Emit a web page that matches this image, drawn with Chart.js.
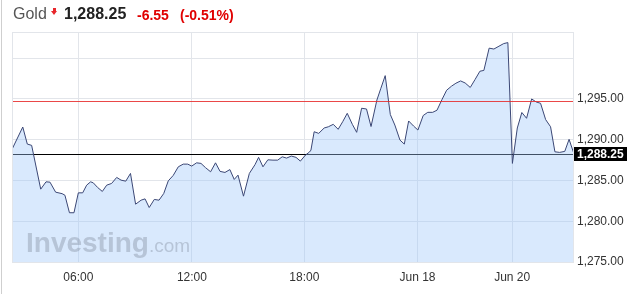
<!DOCTYPE html>
<html>
<head>
<meta charset="utf-8">
<script src="https://cdn.jsdelivr.net/npm/chart.js@4/dist/chart.umd.min.js"></script>
<style>
    body { margin: 0; background: #fff; font-family: "Liberation Sans", Arial, sans-serif; }
    #wrap { position: relative; width: 637px; height: 294px; overflow: hidden; }
    #wrap canvas { position: absolute; left: 0; top: 0; }
    .edge { position: absolute; left: 1px; top: 0; width: 1px; height: 294px; background: #cfcfcf; }
    .hd { position: absolute; line-height: 1; white-space: nowrap; }
    .arrow { position: absolute; left: 51px; top: 8px; width: 7px; height: 7px; }
    .arrow .stem { position: absolute; left: 2px; top: 0; width: 3px; height: 3px; background: #e8262b; }
    .arrow .head { position: absolute; left: 0; top: 3px; width: 0; height: 0;
        border-left: 3.5px solid transparent; border-right: 3.5px solid transparent; border-top: 4px solid #e8262b; }
</style>
</head>
<body>
<div id="wrap">
    <canvas id="chart" width="637" height="294"></canvas>
    <div class="edge"></div>
    <div class="hd" style="left:13px; top:6px; font-size:16px; color:#555;">Gold</div>
    <div class="arrow"><div class="stem"></div><div class="head"></div></div>
    <div class="hd" id="last" style="left:64px; top:6px; font-size:16px; font-weight:bold; color:#222;"></div>
    <div class="hd" id="chg" style="left:137px; top:8px; font-size:14px; font-weight:bold; color:#e00000;"></div>
    <div class="hd" id="pct" style="left:180px; top:8px; font-size:14px; font-weight:bold; color:#e00000;"></div>
</div>
<script>
// Quote
const lastPrice = 1288.25;
const change = -6.55;
const changePct = -0.51;
const prevClose = lastPrice - change;

// Time axis (hours from left edge of the chart) and gold price
const hours = [
    0, 0.57, 0.81, 1.04, 1.52, 1.80, 2.01, 2.31, 2.65, 2.80,
    3.04, 3.28, 3.51, 3.74, 3.95, 4.16, 4.30, 4.53, 4.78, 5.01,
    5.27, 5.54, 5.77, 6.02, 6.27, 6.54, 6.83, 7.04, 7.26, 7.53,
    7.78, 8.03, 8.27, 8.53, 8.80, 9.06, 9.30, 9.51, 9.77, 10.00,
    10.24, 10.51, 10.77, 11.01, 11.27, 11.53, 11.76, 11.96, 12.25, 12.56,
    12.86, 13.05, 13.28, 13.54, 13.81, 14.06, 14.30, 14.53, 14.78, 15.03,
    15.26, 15.53, 15.74, 15.82, 15.99, 16.23, 16.52, 16.74, 17.00, 17.26,
    17.50, 17.74, 18.01, 18.24, 18.50, 18.76, 19.00, 19.31, 19.52, 19.75,
    20.02, 20.26, 20.53, 20.76, 20.99, 21.25, 21.48, 21.76, 22.00, 22.26,
    22.49, 22.75, 23.00, 23.26, 23.49, 23.74, 23.98, 24.25, 24.50, 24.76,
    24.97, 25.25, 25.50, 25.77, 26.02, 26.24, 26.48, 26.74, 26.98, 27.23,
    27.50, 27.74, 27.97, 28.24, 28.50, 28.73, 28.98, 29.25, 29.48, 29.74
];
const prices = [
    1288.81, 1291.55, 1289.46, 1289.30, 1283.93, 1284.83, 1284.79, 1283.56, 1283.38, 1283.19,
    1281.04, 1281.04, 1283.48, 1283.48, 1284.42, 1284.83, 1284.71, 1284.14, 1283.65, 1284.42,
    1284.63, 1285.37, 1285.04, 1284.91, 1285.86, 1282.09, 1282.58, 1282.74, 1281.68, 1282.67,
    1282.58, 1283.40, 1284.95, 1285.61, 1286.67, 1287.00, 1287.00, 1286.76, 1287.16, 1287.09,
    1286.57, 1286.06, 1287.16, 1286.11, 1285.98, 1286.33, 1285.12, 1285.65, 1283.07, 1285.86,
    1286.94, 1287.83, 1286.67, 1287.53, 1287.49, 1287.49, 1287.90, 1287.74, 1287.99, 1287.83,
    1287.37, 1288.11, 1288.48, 1288.72, 1290.97, 1290.77, 1291.43, 1291.58, 1291.88, 1291.27,
    1292.20, 1293.23, 1291.88, 1290.90, 1293.85, 1293.76, 1291.61, 1294.86, 1296.30, 1297.85,
    1293.08, 1291.79, 1289.95, 1289.46, 1292.29, 1291.67, 1291.18, 1292.96, 1293.35, 1293.35,
    1293.61, 1294.90, 1296.06, 1296.56, 1296.92, 1297.20, 1296.95, 1296.40, 1297.36, 1298.39,
    1298.49, 1301.22, 1301.11, 1301.46, 1301.78, 1301.90, 1287.09, 1291.43, 1293.33, 1292.62,
    1294.99, 1294.62, 1294.46, 1292.46, 1291.58, 1288.51, 1288.44, 1288.56, 1290.04, 1288.25
];

// Axis ticks
const timeTicks = [3.51, 9.52, 15.47, 21.46, 26.47];
const timeLabels = ['06:00', '12:00', '18:00', 'Jun 18', 'Jun 20'];
const priceTicks = [1275, 1280, 1285, 1290, 1295, 1300];
const labelledPrices = [1275, 1280, 1285, 1290, 1295];

const fmt = (v, d) => v.toLocaleString('en-US', { minimumFractionDigits: d, maximumFractionDigits: d });

document.getElementById('last').textContent = fmt(lastPrice, 2);
document.getElementById('chg').textContent = change.toFixed(2);
document.getElementById('pct').textContent = '(' + changePct.toFixed(2) + '%)';

// Price lines, frame, watermark and last price tag
const overlay = {
    id: 'overlay',
    beforeDatasetsDraw(chart) {
        const { ctx, chartArea: a, scales } = chart;
        ctx.save();
        // last price
        const y = Math.round(scales.y.getPixelForValue(lastPrice));
        ctx.fillStyle = '#000';
        ctx.fillRect(a.left, y, a.right - a.left, 1);
        ctx.restore();
    },
    afterDatasetsDraw(chart) {
        const { ctx, chartArea: a, scales } = chart;
        ctx.save();
        // previous close
        let y = Math.round(scales.y.getPixelForValue(prevClose));
        ctx.fillStyle = 'rgba(230,40,40,0.85)';
        ctx.fillRect(a.left, y, a.right - a.left, 1);
        // frame
        ctx.strokeStyle = '#e2e5ea';
        ctx.lineWidth = 1;
        ctx.strokeRect(a.left + 0.5, a.top + 0.5, a.right - a.left - 1, a.bottom - a.top);
        // watermark
        ctx.fillStyle = 'rgba(140,150,168,0.45)';
        ctx.textBaseline = 'alphabetic';
        ctx.font = 'bold 28px "Liberation Sans", Arial, sans-serif';
        ctx.fillText('Investing', 26, 252);
        const w = ctx.measureText('Investing').width;
        ctx.font = '19px "Liberation Sans", Arial, sans-serif';
        ctx.fillText('.com', 26 + w, 252);
        // last price tag
        y = Math.round(scales.y.getPixelForValue(lastPrice));
        ctx.fillStyle = '#000';
        ctx.fillRect(a.right, y - 7, 53, 14);
        ctx.fillStyle = '#fff';
        ctx.font = 'bold 12px "Liberation Sans", Arial, sans-serif';
        ctx.textBaseline = 'middle';
        ctx.fillText(fmt(lastPrice, 2), a.right + 3, y + 1);
        ctx.restore();
    }
};

new Chart(document.getElementById('chart'), {
    type: 'line',
    data: {
        datasets: [{
            data: hours.map((h, i) => ({ x: h, y: prices[i] })),
            borderColor: '#3b4775',
            borderWidth: 1,
            backgroundColor: 'rgba(160,200,250,0.4)',
            fill: 'start',
            pointRadius: 0,
            tension: 0
        }]
    },
    options: {
        responsive: false,
        animation: false,
        devicePixelRatio: 1,
        layout: { padding: { left: 12, top: 32, right: 0, bottom: 0 } },
        plugins: {
            legend: { display: false },
            tooltip: { enabled: false }
        },
        scales: {
            x: {
                type: 'linear',
                min: 0,
                max: 29.74,
                afterBuildTicks: (scale) => { scale.ticks = timeTicks.map(v => ({ value: v })); },
                afterFit: (scale) => { scale.height = 32; },
                ticks: {
                    autoSkip: false,
                    maxRotation: 0,
                    padding: 8,
                    color: '#333',
                    font: { family: '"Liberation Sans", Arial, sans-serif', size: 12 },
                    callback: (v, i) => timeLabels[i]
                },
                grid: { color: '#e2e5ea', drawTicks: false },
                border: { display: false }
            },
            y: {
                position: 'right',
                min: 1275,
                max: 1303.2,
                afterBuildTicks: (scale) => { scale.ticks = priceTicks.map(v => ({ value: v })); },
                afterFit: (scale) => { scale.width = 63; },
                ticks: {
                    padding: 3,
                    color: '#333',
                    font: { family: '"Liberation Sans", Arial, sans-serif', size: 12 },
                    callback: (v) => labelledPrices.includes(v) ? fmt(v, 2) : ''
                },
                grid: { color: '#e2e5ea', drawTicks: false },
                border: { display: false }
            }
        }
    },
    plugins: [overlay]
});
</script>
</body>
</html>
